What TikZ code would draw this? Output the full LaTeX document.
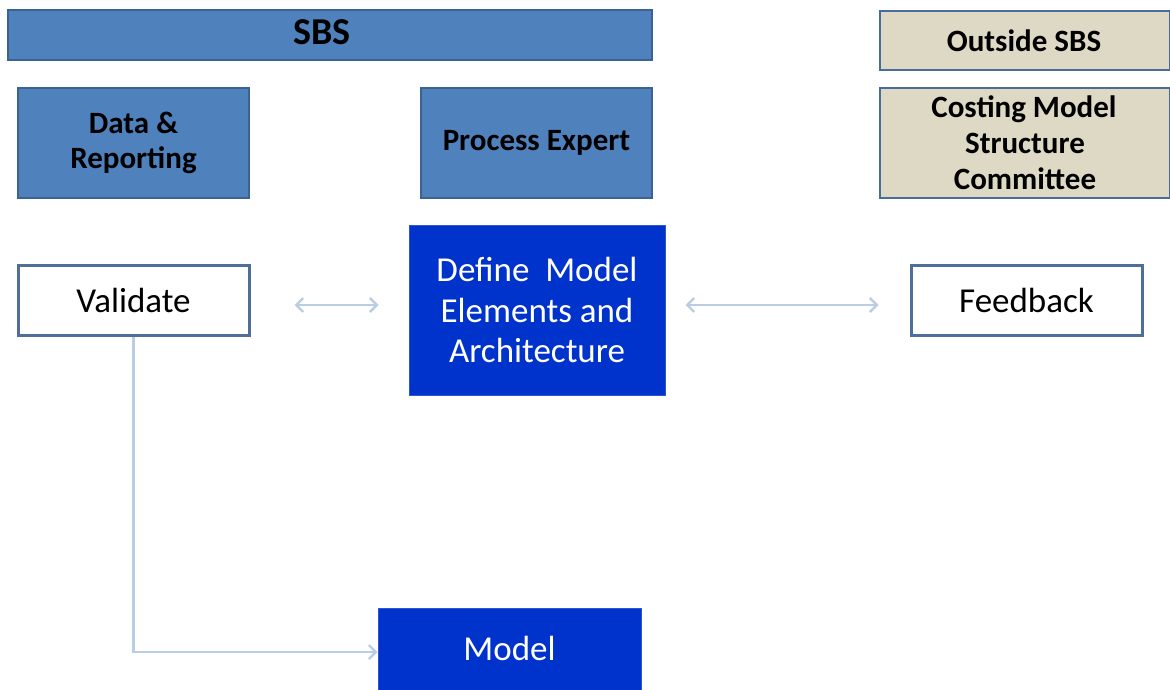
\documentclass[tikz,border=0pt]{standalone}
\usepackage{fontspec}
\setmainfont{Carlito}
\usetikzlibrary{arrows.meta}
\definecolor{sbsblue}{HTML}{4F81BD}
\definecolor{sbsedge}{HTML}{3A6393}
\definecolor{tan}{HTML}{DDD9C4}
\definecolor{tanedge}{HTML}{4A6C98}
\definecolor{deepblue}{HTML}{0033CC}
\definecolor{deepedge}{HTML}{2F55D4}
\definecolor{linkblue}{HTML}{B9CDE5}
\definecolor{outedge}{HTML}{4F6E99}
\tikzset{
  sbsbox/.style={draw=sbsedge, line width=2.4pt, fill=sbsblue, align=center, inner sep=0pt,
    font=\fontsize{31}{35}\selectfont\bfseries},
  tanbox/.style={draw=tanedge, line width=2.6pt, fill=tan, align=center, inner sep=0pt,
    font=\fontsize{31}{36}\selectfont\bfseries},
  whitebox/.style={draw=outedge, line width=3pt, fill=white, align=center, inner sep=0pt,
    font=\fontsize{35}{40}\selectfont},
  bluebox/.style={draw=deepedge, line width=1pt, fill=deepblue, text=white, align=center, inner sep=0pt,
    font=\fontsize{35}{40.5}\selectfont},
  link/.style={draw=linkblue, line width=2.4pt},
  twohead/.style={link, {Straight Barb[length=7pt,width=14pt]}-{Straight Barb[length=7pt,width=14pt]}},
  onehead/.style={link, -{Straight Barb[length=7pt,width=14pt]}}
}
\begin{document}
\begin{tikzpicture}[x=1pt,y=-1pt]
\useasboundingbox (0,0) rectangle (1170,690);
\fill[white] (0,0) rectangle (1170,690);

\node[sbsbox, minimum width=644pt, minimum height=50pt, font=\fontsize{38}{40}\selectfont\bfseries] (sbs) at (330,35) {\hspace*{-16pt}\raisebox{5pt}{SBS}};
\node[tanbox, minimum width=290pt, minimum height=59pt] (outside) at (1025,40.5) {\hspace*{-2pt}Outside SBS};

\node[sbsbox, minimum width=231pt, minimum height=110pt] (data) at (133.5,143) {Data \&\\Reporting};
\node[sbsbox, minimum width=231pt, minimum height=110pt] (process) at (536.5,143) {Process Expert};
\node[tanbox, minimum width=290pt, minimum height=110pt] (costing) at (1025,143) {\hspace*{-2pt}Costing Model\\Structure\\Committee};

\node[whitebox, minimum width=231pt, minimum height=70pt] (validate) at (133.5,300) {Validate};
\node[bluebox, minimum width=256pt, minimum height=170pt] (define) at (537,310) {Define\ \ Model\\Elements and\\Architecture};
\node[whitebox, minimum width=231pt, minimum height=70pt] (feedback) at (1026.5,300) {Feedback};
\node[bluebox, minimum width=263pt, minimum height=84pt] (model) at (509.5,650) {\raisebox{3pt}{Model}};

\coordinate (l1) at ([shift={(44,5)}]validate.east);
\coordinate (l2) at ([shift={(-30,-5)}]define.west);
\coordinate (r1) at ([shift={(20,-5)}]define.east);
\coordinate (r2) at ([shift={(-31,5)}]feedback.west);
\draw[twohead] (l1) -- (l2);
\draw[twohead] (r1) -- (r2);

\draw[onehead] (validate.south) |- ([yshift=-2pt]model.west);
\end{tikzpicture}
\end{document}
